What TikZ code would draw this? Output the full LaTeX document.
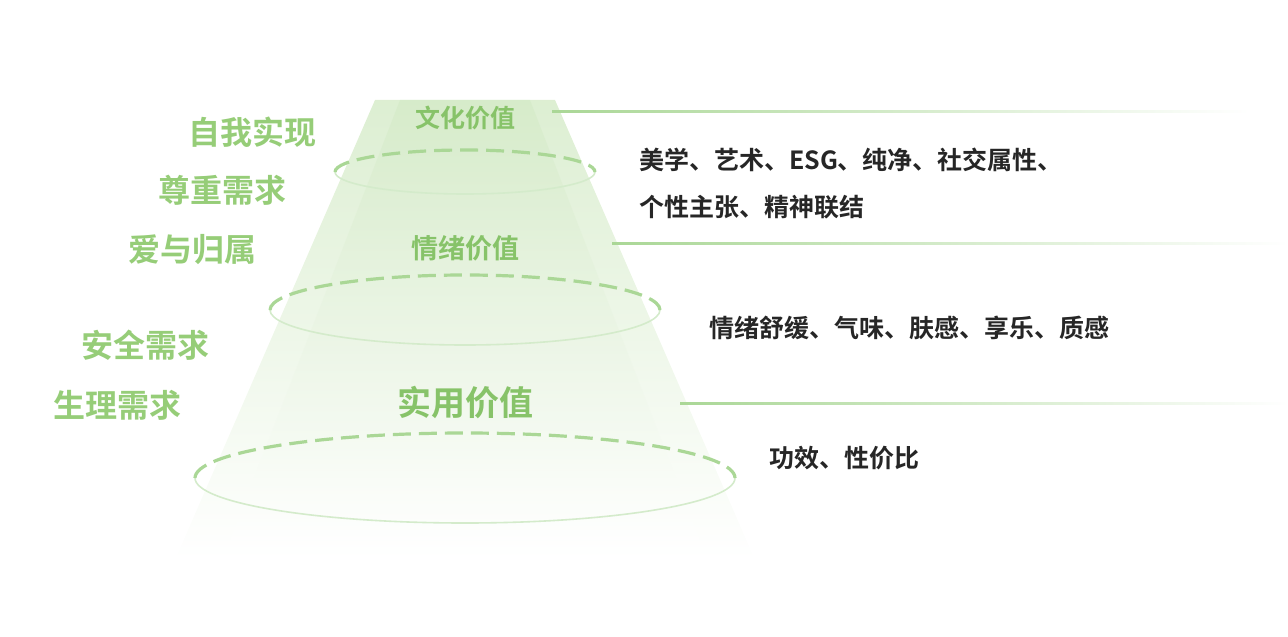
\documentclass[tikz,border=0pt]{standalone}
\usepackage{fontspec}
\newfontfamily\cjkb{Noto Sans CJK SC Bold}
\definecolor{gtxt}{RGB}{150,205,120}
\definecolor{glab}{RGB}{135,195,105}
\definecolor{gtop}{RGB}{140,200,105}
\definecolor{gline}{RGB}{170,215,150}
\begin{document}
\begin{tikzpicture}[x=0.5pt,y=-0.5pt,
  lefttxt/.style={text=gtxt,font=\cjkb\fontsize{16}{18}\selectfont,anchor=center},
  pyrlab/.style={text=glab,font=\cjkb\fontsize{12.5}{14}\selectfont},
  righttxt/.style={text=black!85,font=\cjkb\fontsize{12.5}{14}\selectfont,anchor=west},
  frontdash/.style={draw=gline,line width=1.6pt,dash pattern=on 9pt off 4pt},
  backline/.style={draw=gline!50,line width=0.8pt}]
\useasboundingbox (0,0) rectangle (1288,636);
% pyramid
\shade[top color=gtop!30,middle color=gtop!75,bottom color=white] (375,100) -- (555,100) -- (755,560) -- (175,560) -- cycle;
\shade[top color=gtop!40,middle color=gtop!80,bottom color=white,opacity=0.5] (400,100) -- (530,100) -- (700,540) -- (230,540) -- cycle;
% ellipses
\draw[backline] (335,172) arc[start angle=180,end angle=0,x radius=130,y radius=22];
\draw[frontdash] (335,172) arc[start angle=180,end angle=360,x radius=130,y radius=22];
\draw[backline] (270,310) arc[start angle=180,end angle=0,x radius=195,y radius=35];
\draw[frontdash] (270,310) arc[start angle=180,end angle=360,x radius=195,y radius=35];
\draw[backline] (195,478) arc[start angle=180,end angle=0,x radius=270,y radius=45];
\draw[frontdash] (195,478) arc[start angle=180,end angle=360,x radius=270,y radius=45];
% labels
\node[pyrlab] (l1) at (465,118) {文化价值};
\node[pyrlab,font=\cjkb\fontsize{13.5}{16}\selectfont] (l2) at (465,248) {情绪价值};
\node[pyrlab,font=\cjkb\fontsize{17}{20}\selectfont] (l3) at (465,403) {实用价值};
% lines
\shade[left color=gline,right color=white] (552,111) rectangle (1250,113);
\shade[left color=gline,right color=white] (612,242) rectangle (1288,244);
\shade[left color=gline,right color=white] (680,402) rectangle (1288,404);
% left
\node[lefttxt] (n1) at (252,132) {自我实现};
\node[lefttxt] (n2) at (222,190) {尊重需求};
\node[lefttxt] (n3) at (192,250) {爱与归属};
\node[lefttxt] (n4) at (145,345) {安全需求};
\node[lefttxt] (n5) at (117,405) {生理需求};
% right
\node[righttxt] (r1) at (632,160) {美学、艺术、ESG、纯净、社交属性、};
\node[righttxt] (r2) at (632,207) {个性主张、精神联结};
\node[righttxt] (r3) at (702,328) {情绪舒缓、气味、肤感、享乐、质感};
\node[righttxt] (r4) at (762,458) {功效、性价比};
\end{tikzpicture}
\end{document}
